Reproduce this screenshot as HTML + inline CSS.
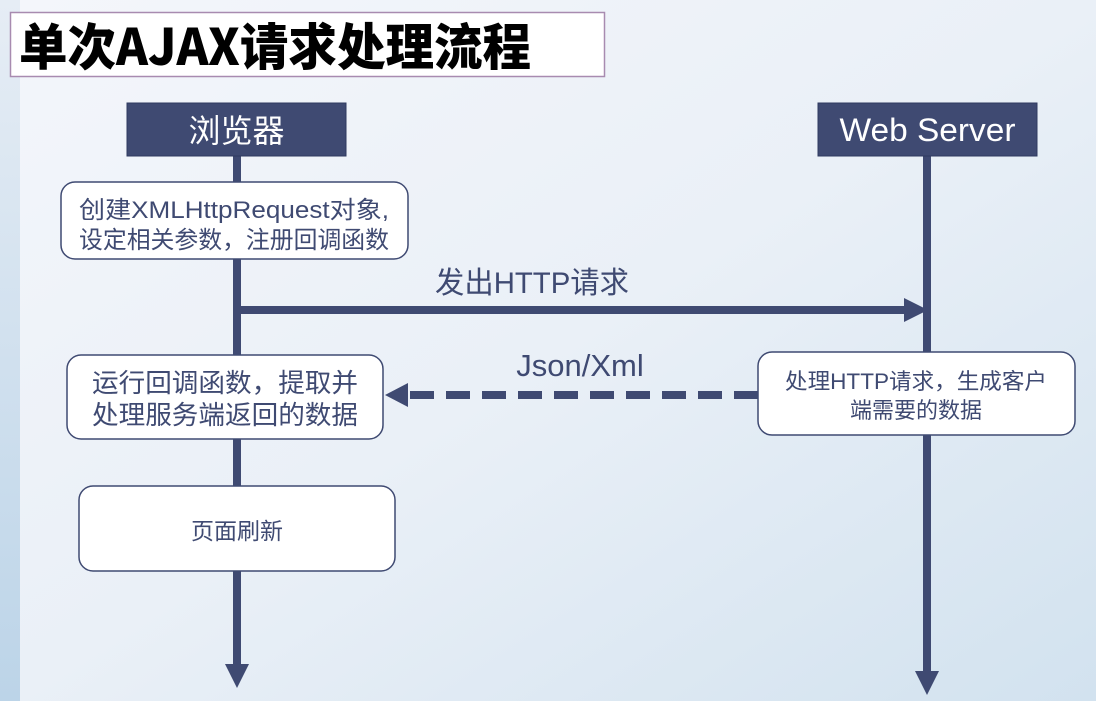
<!DOCTYPE html>
<html><head><meta charset="utf-8"><style>
html,body{margin:0;padding:0;}
body{width:1096px;height:701px;overflow:hidden;font-family:"Liberation Sans","Noto Sans CJK SC",sans-serif;}
</style></head><body>
<svg width="1096" height="701" xmlns="http://www.w3.org/2000/svg" font-family="Liberation Sans, Noto Sans CJK SC, sans-serif">
<defs>
<linearGradient id="bg" x1="0" y1="0" x2="1" y2="1">
<stop offset="0" stop-color="#f4f6fb"/><stop offset="0.5" stop-color="#eaf0f7"/><stop offset="1" stop-color="#d2e2ef"/>
</linearGradient>
<linearGradient id="strip" x1="0" y1="0" x2="0" y2="1">
<stop offset="0" stop-color="#e6edf5"/><stop offset="1" stop-color="#bcd4e8"/>
</linearGradient>
</defs>
<rect width="1096" height="701" fill="url(#bg)"/>
<rect width="20" height="701" fill="url(#strip)"/>
<rect x="10.5" y="12.5" width="594" height="64" fill="#fff" stroke="#a88bb0" stroke-width="1.5"/>
<text x="19" y="65" font-size="50" font-weight="900" fill="#000" font-family="Noto Sans CJK SC, sans-serif" textLength="512" lengthAdjust="spacingAndGlyphs">单次AJAX请求处理流程</text>

<g fill="#3f4a72" stroke="#3f4a72">
<rect x="233" y="150" width="8" height="515" stroke="none"/>
<polygon points="225,664 249,664 237,688" stroke="none"/>
<rect x="923" y="150" width="8" height="522" stroke="none"/>
<polygon points="915,671 939,671 927,695" stroke="none"/>
<rect x="241" y="306" width="665" height="8" stroke="none"/>
<polygon points="904,298 928,310 904,322" stroke="none"/>
<line x1="758" y1="395" x2="405" y2="395" stroke-width="8" stroke-dasharray="24,12"/>
<polygon points="408,383 385,395 408,407" stroke="none"/>
</g>

<rect x="127" y="103" width="219" height="53" fill="#3f4a72" stroke="#2f3a60"/>
<text x="236.5" y="142" font-size="32" fill="#fff" text-anchor="middle">浏览器</text>
<rect x="818" y="103" width="219" height="53" fill="#3f4a72" stroke="#2f3a60"/>
<text x="927.5" y="141" font-size="32" fill="#fff" text-anchor="middle" textLength="176" lengthAdjust="spacingAndGlyphs">Web Server</text>

<g fill="#fff" stroke="#3f4a72" stroke-width="1.5">
<rect x="61" y="182" width="347" height="77" rx="14"/>
<rect x="67" y="355" width="316" height="84" rx="14"/>
<rect x="79" y="486" width="316" height="85" rx="14"/>
<rect x="758" y="352" width="317" height="83" rx="14"/>
</g>
<g fill="#3f4a72" text-anchor="middle">
<text x="234" y="218" font-size="24" textLength="310" lengthAdjust="spacingAndGlyphs">创建XMLHttpRequest对象,</text>
<text x="234" y="248" font-size="24" textLength="310" lengthAdjust="spacingAndGlyphs">设定相关参数，注册回调函数</text>
<text x="225" y="392" font-size="26" textLength="266" lengthAdjust="spacingAndGlyphs">运行回调函数，提取并</text>
<text x="225" y="424" font-size="26" textLength="266" lengthAdjust="spacingAndGlyphs">处理服务端返回的数据</text>
<text x="237" y="539" font-size="23">页面刷新</text>
<text x="916" y="389" font-size="22" textLength="262" lengthAdjust="spacingAndGlyphs">处理HTTP请求，生成客户</text>
<text x="916" y="418" font-size="22">端需要的数据</text>
<text x="532" y="293" font-size="30" textLength="194" lengthAdjust="spacingAndGlyphs">发出HTTP请求</text>
<text x="580" y="376" font-size="31">Json/Xml</text>
</g>
</svg>
</body></html>
